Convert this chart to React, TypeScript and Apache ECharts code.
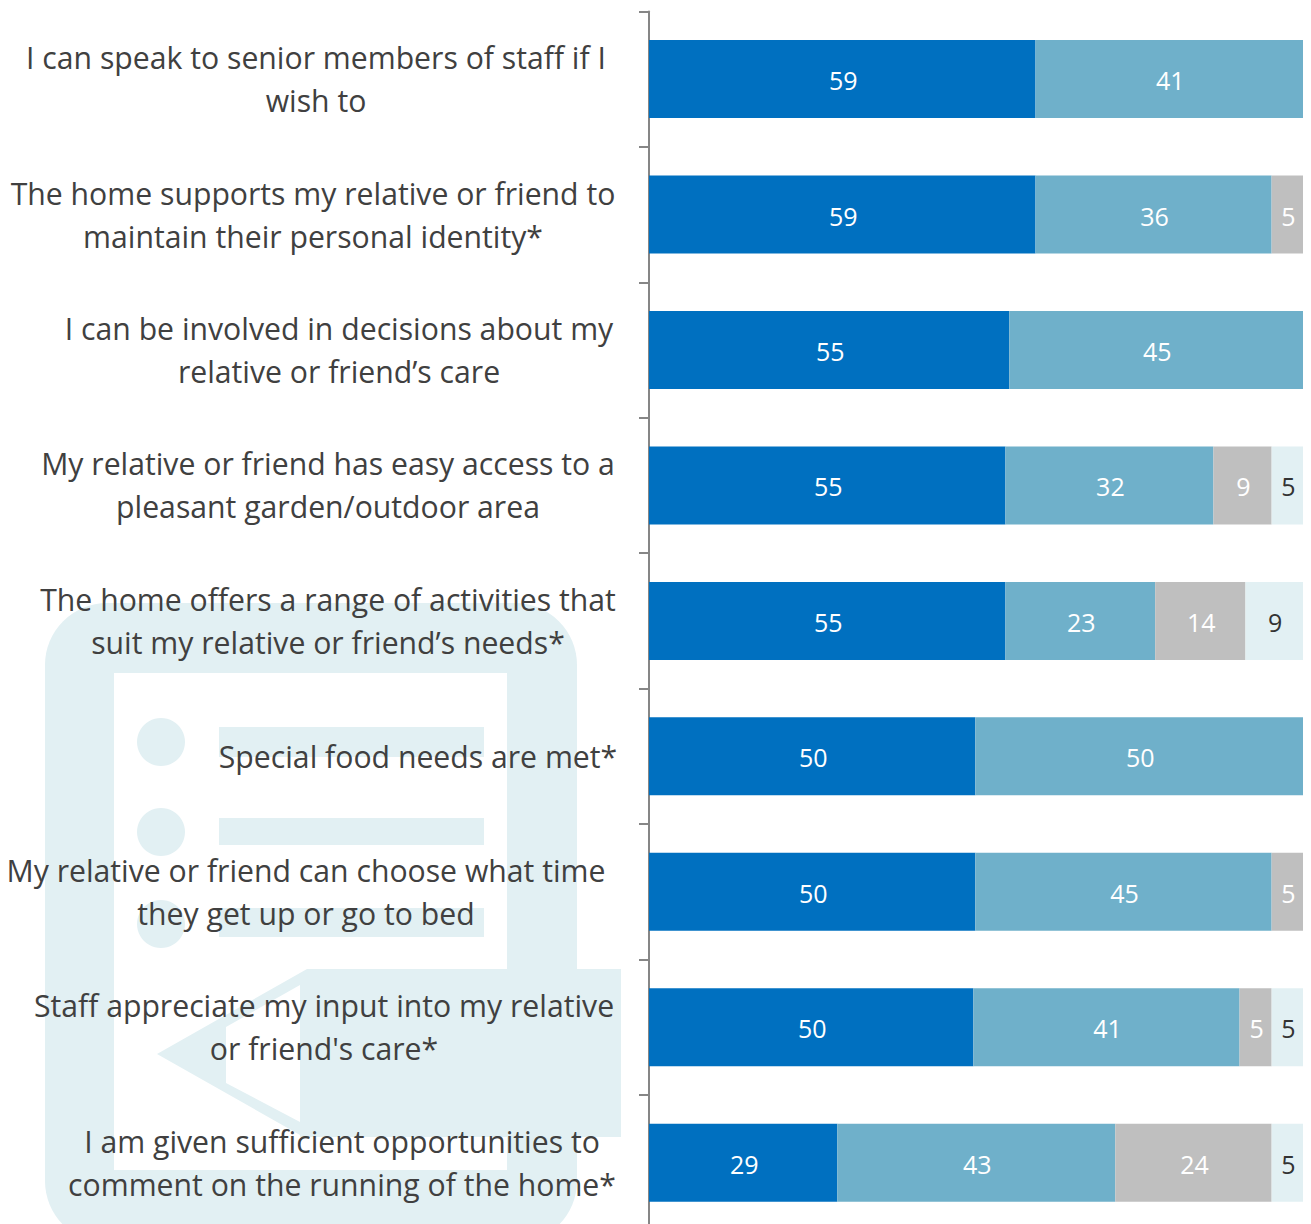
import React, { useEffect, useRef } from "react";
import * as echarts from "echarts";

const categories = [
  "I can speak to senior members of staff if I\nwish to",
  "The home supports my relative or friend to\nmaintain their personal identity*",
  "I can be involved in decisions about my\nrelative or friend’s care",
  "My relative or friend has easy access to a\npleasant garden/outdoor area",
  "The home offers a range of activities that\nsuit my relative or friend’s needs*",
  "Special food needs are met*",
  "My relative or friend can choose what time\nthey get up or go to bed",
  "Staff appreciate my input into my relative\nor friend's care*",
  "I am given sufficient opportunities to\ncomment on the running of the home*",
];
const seriesA = [59.1, 59.1, 55.1, 54.5, 54.5, 49.9, 49.9, 49.6, 28.8];
const seriesB = [40.9, 36.1, 44.9, 31.8, 22.9, 50.1, 45.3, 40.7, 42.5];
const seriesC = [null, 4.8, null, 8.9, 13.8, null, 4.8, 4.9, 23.9];
const seriesD = [null, null, null, 4.8, 8.8, null, null, 4.8, 4.8];

const LIGHT = "#e2f0f3";
const FONT = "'Open Sans', sans-serif";
const LABEL_RIGHT = 625;
const labelCentres = [316, 313, 339, 328, 328, 418, 306, 324, 342];

const makeSeries = (data: (number | null)[], color: string, labelColor: string) => ({
  type: "bar" as const,
  stack: "total",
  barWidth: 78,
  data,
  itemStyle: { color },
  label: {
    show: true,
    position: "inside" as const,
    offset: [1, 1],
    color: labelColor,
    fontFamily: FONT,
    fontSize: 25,
    formatter: (p: any) => (p.value == null ? "" : String(Math.round(p.value))),
  },
});

export default function App() {
  const ref = useRef<HTMLDivElement>(null);
  useEffect(() => {
    document.body.style.margin = "0";
    const chart = echarts.init(ref.current!, undefined, { renderer: "svg" });
    const rich: Record<string, any> = {};
    labelCentres.forEach((c, i) => {
      rich["l" + i] = {
        width: 2 * (LABEL_RIGHT - c),
        align: "center",
        color: "#404040",
        fontFamily: FONT,
        fontSize: 30.2,
        lineHeight: 43,
      };
    });
    const fill = { fill: LIGHT };
    chart.setOption({
      animation: false,
      backgroundColor: "#ffffff",
      graphic: [
        { type: "rect", shape: { x: 45, y: 603, width: 532, height: 640, r: 62 }, style: fill, z: -10, silent: true },
        { type: "rect", shape: { x: 114, y: 673, width: 393, height: 497 }, style: { fill: "#ffffff" }, z: -9, silent: true },
        { type: "circle", shape: { cx: 161, cy: 742, r: 24 }, style: fill, z: -8, silent: true },
        { type: "circle", shape: { cx: 161, cy: 832, r: 24 }, style: fill, z: -8, silent: true },
        { type: "circle", shape: { cx: 161, cy: 924, r: 24 }, style: fill, z: -8, silent: true },
        { type: "rect", shape: { x: 219, y: 727, width: 265, height: 30 }, style: fill, z: -8, silent: true },
        { type: "rect", shape: { x: 219, y: 818, width: 265, height: 27 }, style: fill, z: -8, silent: true },
        { type: "rect", shape: { x: 219, y: 908, width: 265, height: 29 }, style: fill, z: -8, silent: true },
        {
          type: "polygon",
          shape: { points: [[157, 1054], [307, 969], [621, 969], [621, 1137], [300, 1137], [300, 1135]] },
          style: fill,
          z: -8,
          silent: true,
        },
        {
          type: "polygon",
          shape: { points: [[226, 1027], [300, 985], [300, 1122], [226, 1083]] },
          style: { fill: "#ffffff" },
          z: -7,
          silent: true,
        },
      ],
      grid: { left: 649, top: 11.4, width: 654, height: 1219, containLabel: false, outerBoundsMode: "none" },
      xAxis: { type: "value", min: 0, max: 100, show: false },
      yAxis: {
        type: "category",
        inverse: true,
        offset: 1,
        data: categories,
        axisLine: { show: true, lineStyle: { color: "#868686", width: 2 } },
        axisTick: { show: true, length: 10, lineStyle: { color: "#868686", width: 2 } },
        axisLabel: {
          interval: 0,
          margin: 23,
          align: "right",
          hideOverlap: false,
          formatter: (v: string, i: number) =>
            v.split("\n").map((line) => `{l${i}|${line}}`).join("\n"),
          rich,
        },
      },
      series: [
        makeSeries(seriesA, "#0070c0", "#ffffff"),
        makeSeries(seriesB, "#6fb0ca", "#ffffff"),
        makeSeries(seriesC, "#bfbfbf", "#ffffff"),
        makeSeries(seriesD, LIGHT, "#333333"),
      ],
    });
    return () => chart.dispose();
  }, []);
  return <div ref={ref} style={{ width: 1311, height: 1224 }} />;
}
